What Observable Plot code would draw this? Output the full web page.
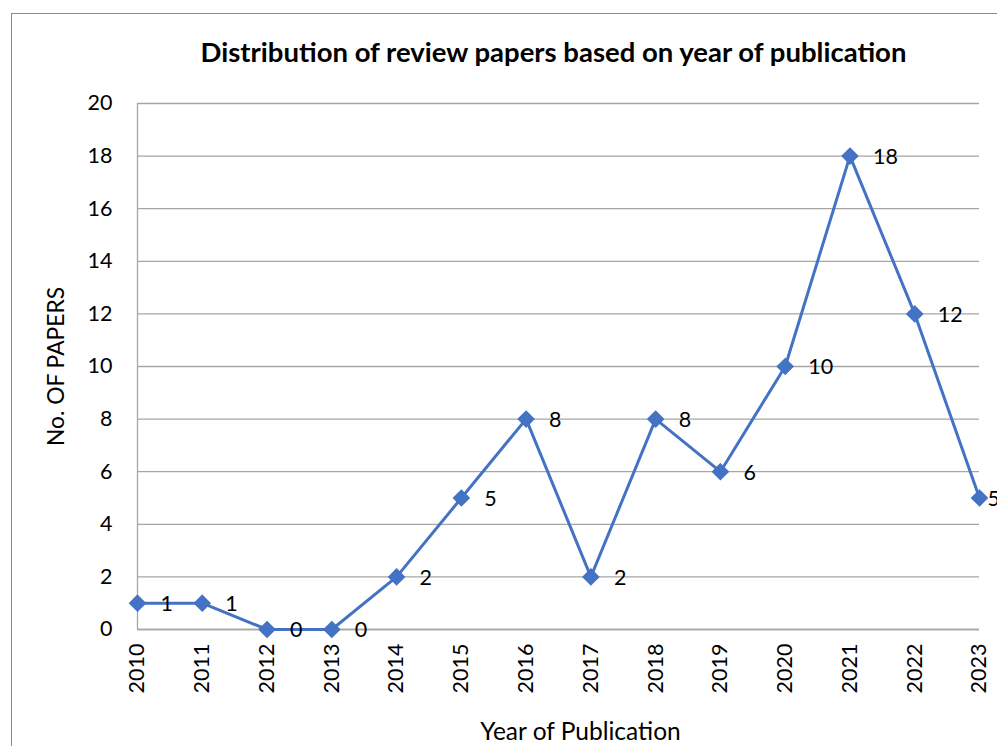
<!DOCTYPE html>
<html>
<head>
<meta charset="utf-8">
<script src="https://cdn.jsdelivr.net/npm/d3@7"></script>
<script src="https://cdn.jsdelivr.net/npm/@observablehq/plot@0.6"></script>
<style>
  html, body { margin: 0; padding: 0; background: #fff; overflow: hidden; }
  #wrap { position: relative; width: 997px; height: 746px; overflow: hidden; }
  #frame { position: absolute; left: 11px; top: 13px; width: 1100px; height: 900px;
           border-left: 1.5px solid #8c8c8c; border-top: 1.5px solid #8c8c8c; }
  #chart { position: absolute; left: 0; top: 0; }
</style>
</head>
<body>
<div id="wrap"><div id="frame"></div><div id="chart"></div></div>
<script>
// Review papers published per year
const years = [2010, 2011, 2012, 2013, 2014, 2015, 2016, 2017, 2018, 2019, 2020, 2021, 2022, 2023];
const papers = [1, 1, 0, 0, 2, 5, 8, 2, 8, 6, 10, 18, 12, 5];
const yTicks = [0, 2, 4, 6, 8, 10, 12, 14, 16, 18, 20];

const titleText = "Distribution of review papers based on year of publication";
const xLabel = "Year of Publication";
const yLabel = "No. OF PAPERS";

const data = years.map((year, i) => ({year, papers: papers[i]}));
const lastYear = years[years.length - 1];

const lineColor = "#4472c4";
const gridColor = "#a6a6a6";
const font = "Lato, 'Open Sans', sans-serif";

const chart = Plot.plot({
  width: 997,
  height: 746,
  marginLeft: 137,
  marginRight: 18,
  marginTop: 103,
  marginBottom: 117,
  style: {fontFamily: font, fontSize: "21.5px", color: "#000", background: "transparent"},
  x: {type: "linear", domain: [years[0], lastYear]},
  y: {domain: [0, 20]},
  marks: [
    Plot.gridY(yTicks, {stroke: gridColor, strokeOpacity: 1, strokeWidth: 1.3}),
    Plot.ruleX([years[0]], {stroke: gridColor, strokeWidth: 1.3}),
    Plot.ruleY([0], {stroke: gridColor, strokeWidth: 1.3}),
    Plot.axisY(yTicks, {tickSize: 0, tickPadding: 25, fontSize: 21.5, fill: "#000", label: null}),
    Plot.axisX(years, {tickSize: 0, tickPadding: 14, tickRotate: -90, tickFormat: d => String(d), fontSize: 21.5, fill: "#000", label: null}),
    Plot.line(data, {x: "year", y: "papers", stroke: lineColor, strokeWidth: 3}),
    Plot.dot(data, {x: "year", y: "papers", symbol: "diamond2", r: 7, fill: lineColor, stroke: lineColor}),
    Plot.text(data.filter(d => d.year !== lastYear), {x: "year", y: "papers", text: d => String(d.papers), dx: 23, dy: 1, textAnchor: "start", fontSize: 21.5, fill: "#000"}),
    Plot.text(data.filter(d => d.year === lastYear), {x: "year", y: "papers", text: d => String(d.papers), dx: 8, dy: 1, textAnchor: "start", fontSize: 21.5, fill: "#000"}),
    Plot.text([titleText], {frameAnchor: "top", dy: -61, dx: -5, textAnchor: "middle", fontWeight: "bold", fontSize: 27.5, fill: "#000"}),
    Plot.text([xLabel], {frameAnchor: "bottom", dy: 110, dx: 22, textAnchor: "middle", fontSize: 24.5, fill: "#000"}),
    Plot.text([yLabel], {frameAnchor: "left", dx: -81, rotate: -90, textAnchor: "middle", fontSize: 22.8, fill: "#000"})
  ]
});
document.getElementById("chart").appendChild(chart);
</script>
</body>
</html>
